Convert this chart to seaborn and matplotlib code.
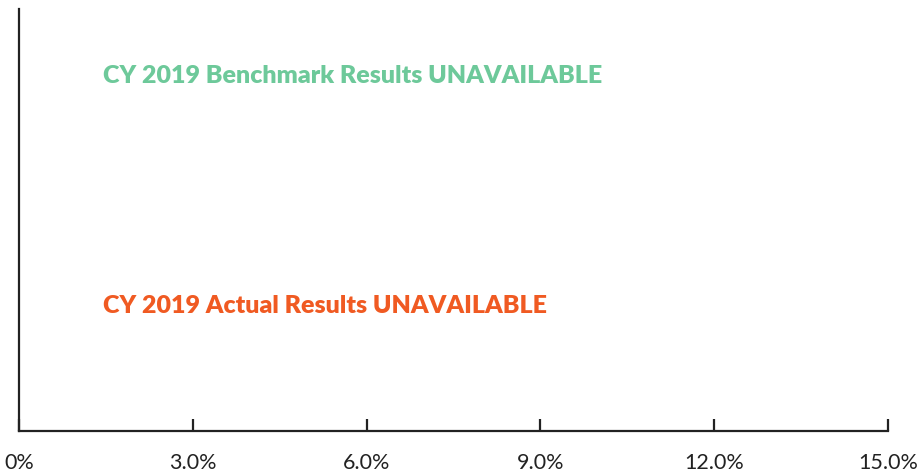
import matplotlib
matplotlib.use("Agg")
import matplotlib.pyplot as plt
import seaborn as sns

# axis values (percent)
x_ticks = [0, 3, 6, 9, 12, 15]
x_labels = ["0%", "3.0%", "6.0%", "9.0%", "12.0%", "15.0%"]

# status messages shown instead of bars
messages = ["CY 2019 Benchmark Results UNAVAILABLE", "CY 2019 Actual Results UNAVAILABLE"]
message_colors = ["#6dc99a", "#f05a22"]
message_y = [0.841, 0.296]

sns.set_style("white")
plt.rcParams['font.family'] = ['Lato', 'DejaVu Sans']

fig = plt.figure(figsize=(9.21, 4.73), dpi=100)
ax = fig.add_axes([0.0206, 0.0888, 0.9436, 0.8922])

ax.set_xlim(x_ticks[0], x_ticks[-1])
ax.set_ylim(0, 1)
ax.set_xticks(x_ticks)
ax.set_xticklabels(x_labels, fontsize=15.5, color="#222222")
ax.set_yticks([])

sns.despine(ax=ax, top=True, right=True)
for side in ["left", "bottom"]:
    ax.spines[side].set_color("#222222")
    ax.spines[side].set_linewidth(1.6)

ax.tick_params(axis="x", bottom=True, direction="in", length=9, width=1.6,
               color="#222222", pad=16)

for msg, col, yy in zip(messages, message_colors, message_y):
    ax.text(1.45, yy, msg, color=col, fontsize=18, fontweight="heavy",
            va="center", ha="left")

fig.savefig("out.png", dpi=100)
